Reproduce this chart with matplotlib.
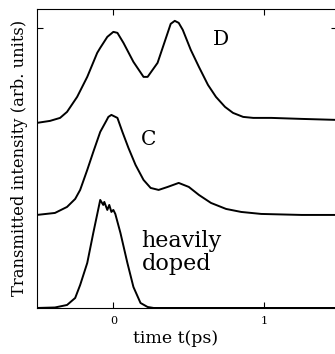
import matplotlib
matplotlib.use("Agg")
from matplotlib import pyplot as plt

# curve D (time in ps, intensity in arb. units)
t_d = [-0.507, -0.42, -0.353, -0.307, -0.24, -0.173, -0.107, -0.087, -0.04, 0.0, 0.027,
       0.067, 0.133, 0.2, 0.227, 0.293, 0.36, 0.38, 0.407, 0.433, 0.46, 0.513,
       0.567, 0.627, 0.68, 0.74, 0.793, 0.86, 0.927, 1.047, 1.247, 1.48]
i_d = [1.85, 1.87, 1.90, 1.96, 2.11, 2.31, 2.55, 2.60, 2.71, 2.76, 2.75,
       2.65, 2.46, 2.31, 2.31, 2.45, 2.75, 2.84, 2.87, 2.85, 2.78, 2.58,
       2.41, 2.23, 2.11, 2.01, 1.95, 1.91, 1.90, 1.90, 1.89, 1.88]

# curve C
t_c = [-0.507, -0.387, -0.307, -0.253, -0.22, -0.173, -0.133, -0.087, -0.047, -0.033,
       -0.013, 0.027, 0.06, 0.1, 0.147, 0.2, 0.247, 0.3, 0.36, 0.433, 0.5, 0.567,
       0.647, 0.747, 0.847, 0.98, 1.247, 1.48]
i_c = [0.93, 0.95, 1.01, 1.09, 1.18, 1.38, 1.56, 1.76, 1.87, 1.91,
       1.93, 1.90, 1.76, 1.60, 1.43, 1.28, 1.20, 1.18, 1.21, 1.25, 1.21, 1.13,
       1.05, 0.99, 0.96, 0.94, 0.93, 0.93]

# heavily doped sample
t_h = [-0.507, -0.387, -0.307, -0.253, -0.22, -0.173, -0.133, -0.087, -0.067, -0.06,
       -0.04, -0.027, -0.013, 0.0, 0.013, 0.047, 0.093, 0.133, 0.18, 0.227, 0.267,
       0.38, 1.48]
i_h = [0.0, 0.005, 0.03, 0.10, 0.23, 0.45, 0.75, 1.08, 1.03, 1.06,
       0.98, 1.03, 0.96, 0.98, 0.94, 0.75, 0.45, 0.21, 0.05, 0.01, 0.0,
       0.0, 0.0]

plt.rcParams["font.family"] = "DejaVu Serif"
fig = plt.figure(figsize=(3.35, 3.54), dpi=100)
ax = fig.add_axes([0.110, 0.130, 0.895, 0.845])

ax.plot(t_d, i_d, color="black", linewidth=1.4)
ax.plot(t_c, i_c, color="black", linewidth=1.4)
ax.plot(t_h, i_h, color="black", linewidth=1.4)

ax.set_xlim(-0.507, 1.48)
ax.set_ylim(0, 2.99)
ax.set_xticks([0, 1])
ax.set_xticklabels(["0", "1"], fontsize=8)
ax.set_yticks([2.8])
ax.set_yticklabels([])
ax.tick_params(direction="in", length=4, top=True, right=True)
ax.tick_params(axis="x", pad=6)

ax.text(0.713, 2.68, "D", fontsize=14.5, ha="center", va="center")
ax.text(0.233, 1.68, "C", fontsize=14.5, ha="center", va="center")
ax.text(0.187, 0.61, "heavily", fontsize=16, ha="left", va="baseline")
ax.text(0.187, 0.38, "doped", fontsize=16, ha="left", va="baseline")

ax.set_xlabel("time t(ps)", fontsize=12.5)
ax.xaxis.set_label_coords(0.464, -0.072)
ax.set_ylabel("Transmitted intensity (arb. units)", fontsize=11.8, labelpad=3)

fig.savefig("out.png", dpi=100)
